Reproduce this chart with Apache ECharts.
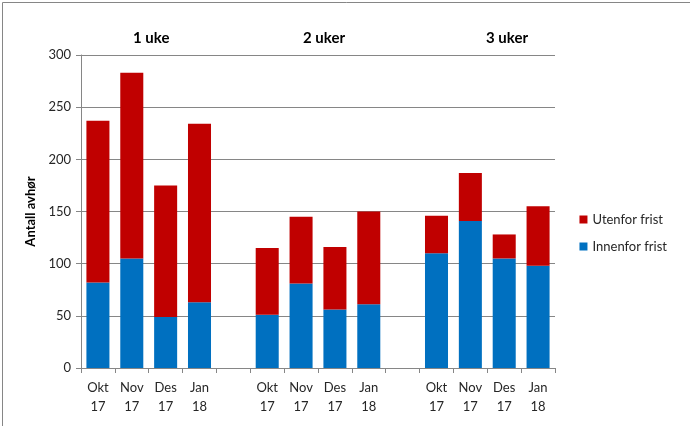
<!DOCTYPE html>
<html>
<head>
<meta charset="utf-8">
<script src="https://cdn.jsdelivr.net/npm/echarts@6/dist/echarts.min.js"></script>
<style>
html,body{margin:0;padding:0;background:#fff;}
#c{width:690px;height:426px;}
</style>
</head>
<body>
<div id="c"></div>
<script>
const categories = ['Okt\n17','Nov\n17','Des\n17','Jan\n18','', 'Okt\n17','Nov\n17','Des\n17','Jan\n18','', 'Okt\n17','Nov\n17','Des\n17','Jan\n18'];
const innenfor = [82,105,49,63,'-',51,81,56,61,'-',110,141,105,98];
const utenfor  = [155,178,126,171,'-',64,64,60,89,'-',36,46,23,57];
const groupLabels = ['1 uke','2 uker','3 uker'];
const yTicks = {min:0,max:300,interval:50};

const FONT = 'Lato, "Open Sans", sans-serif';
const chart = echarts.init(document.getElementById('c'), null, {renderer:'canvas'});
chart.setOption({
  animation:false,
  backgroundColor:'#fff',
  textStyle:{fontFamily:FONT},
  grid:{left:81,right:135,top:55,bottom:58,containLabel:false},
  legend:{
    orient:'vertical', right:18, top:208,
    data:['Utenfor frist','Innenfor frist'],
    itemWidth:8,itemHeight:8,itemGap:14,
    icon:'rect',
    textStyle:{fontFamily:FONT,fontSize:13,color:'#262626'}
  },
  xAxis:{
    type:'category', data:categories,
    axisLine:{lineStyle:{color:'#868686'}},
    axisTick:{show:true,length:5,lineStyle:{color:'#868686'},interval:0},
    axisLabel:{interval:0,fontFamily:FONT,fontSize:13,color:'#262626',lineHeight:19,margin:10}
  },
  yAxis:{
    type:'value', min:yTicks.min, max:yTicks.max, interval:yTicks.interval,
    name:'Antall avhør', nameLocation:'middle', nameGap:44, nameRotate:90,
    nameTextStyle:{fontFamily:FONT,fontWeight:'bold',fontSize:13,color:'#000'},
    axisLine:{show:true,lineStyle:{color:'#868686'}},
    axisTick:{show:true,length:5,lineStyle:{color:'#868686'}},
    axisLabel:{fontFamily:FONT,fontSize:13,color:'#262626',margin:10},
    splitLine:{lineStyle:{color:'#868686'}}
  },
  series:[
    {name:'Innenfor frist',type:'bar',stack:'a',data:innenfor,barWidth:'68%',itemStyle:{color:'#0070C0'}},
    {name:'Utenfor frist',type:'bar',stack:'a',data:utenfor,barWidth:'68%',itemStyle:{color:'#C00000'}}
  ],
  graphic:[
    {type:'rect',left:0,top:0,shape:{width:689,height:425},style:{fill:null,stroke:'#868686',lineWidth:1},silent:true},
    {type:'text',left:133,top:31,style:{text:groupLabels[0],font:'bold 15px '+FONT,fill:'#000'}},
    {type:'text',left:303,top:31,style:{text:groupLabels[1],font:'bold 15px '+FONT,fill:'#000'}},
    {type:'text',left:486,top:31,style:{text:groupLabels[2],font:'bold 15px '+FONT,fill:'#000'}}
  ]
});
</script>
</body>
</html>
